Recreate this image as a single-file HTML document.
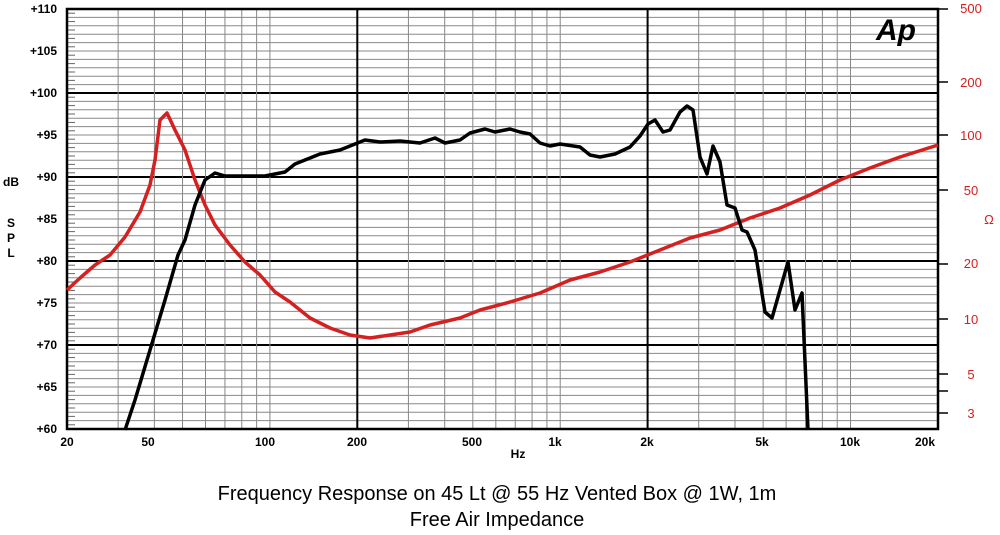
<!DOCTYPE html>
<html><head><meta charset="utf-8"><style>
body{margin:0;background:#fff;width:1000px;height:535px;overflow:hidden}
svg{display:block}
text{font-family:"Liberation Sans",Arial,sans-serif}
</style></head><body>
<svg id="s" width="1000" height="535" viewBox="0 0 1000 535" xmlns="http://www.w3.org/2000/svg">
<g id="grid"></g>
<rect x="67" y="9" width="871" height="420" fill="none" stroke="#000" stroke-width="2.5"/>
<g font-size="12" font-weight="bold" text-anchor="end" fill="#000">
<text x="57" y="13">+110</text><text x="57" y="55">+105</text><text x="57" y="97">+100</text>
<text x="57" y="139">+95</text><text x="57" y="181">+90</text><text x="57" y="223">+85</text>
<text x="57" y="265">+80</text><text x="57" y="307">+75</text><text x="57" y="349">+70</text>
<text x="57" y="391">+65</text><text x="57" y="433">+60</text>
</g>
<g font-size="12" font-weight="bold" text-anchor="middle">
<text x="11" y="186">dB</text><text x="11" y="227">S</text><text x="11" y="242">P</text><text x="11" y="257">L</text>
<text x="67" y="446">20</text><text x="148" y="446">50</text><text x="265" y="446">100</text><text x="357" y="446">200</text>
<text x="472" y="446">500</text><text x="555" y="446">1k</text><text x="647" y="446">2k</text><text x="762" y="446">5k</text>
<text x="850" y="446">10k</text><text x="925" y="446">20k</text><text x="518" y="458">Hz</text>
</g>
<g font-size="13" fill="#d42020" text-anchor="middle">
<text x="971" y="13">500</text><text x="971" y="87">200</text><text x="971" y="140">100</text>
<text x="971" y="195">50</text><text x="989" y="224">Ω</text><text x="971" y="268">20</text>
<text x="971" y="324">10</text><text x="971" y="379">5</text><text x="971" y="418">3</text>
</g>
<g stroke="#000" stroke-width="1.5">
<line x1="938" y1="9" x2="948" y2="9"/><line x1="938" y1="82" x2="948" y2="82"/><line x1="938" y1="135" x2="948" y2="135"/>
<line x1="938" y1="190" x2="948" y2="190"/><line x1="938" y1="264" x2="948" y2="264"/><line x1="938" y1="319" x2="948" y2="319"/>
<line x1="938" y1="374" x2="948" y2="374"/><line x1="938" y1="391" x2="948" y2="391"/><line x1="938" y1="413" x2="948" y2="413"/>
</g>
<text x="876" y="40" font-size="30" font-weight="bold" font-style="italic" fill="#000">Ap</text>
<polyline fill="none" stroke="#d42020" stroke-width="3.5" stroke-linejoin="round" points="67,290 80,278 95,265 110,255 125,237 140,212 150,185 155,160 160,120 167,113 175,130 185,150 195,180 205,205 215,225 230,245 245,262 260,275 275,292 290,302 310,318 330,328 350,335 370,338 390,335 410,332 430,325 460,318 480,310 510,302 540,293 570,280 600,272 630,262 660,250 690,238 720,230 750,218 780,208 810,195 840,180 870,168 900,157 938,145"/>
<polyline fill="none" stroke="#000" stroke-width="3.5" stroke-linejoin="round" points="125,430 135,400 150,350 165,300 178,255 185,240 195,205 205,180 215,173 225,176 265,176 285,172 295,164 310,158 320,154 340,150 355,144 365,140 380,142 400,141 420,143 435,138 445,143 460,140 470,133 485,129 495,132 505,130 510,129 520,132 530,134 540,143 550,146 560,144 580,147 590,155 600,157 615,154 630,147 640,136 648,124 655,120 663,132 670,130 680,112 687,106 693,110 700,157 707,174 713,146 720,162 727,205 735,208 742,230 747,232 755,250 765,312 772,318 780,290 788,262 795,310 802,293 808,430"/>
<g font-size="20" text-anchor="middle" fill="#000">
<text x="497" y="500">Frequency Response on 45 Lt @ 55 Hz Vented Box @ 1W, 1m</text>
<text x="497" y="526">Free Air Impedance</text>
</g>
</svg>
<script>
var g=document.getElementById('grid'),ns='http://www.w3.org/2000/svg';
function L(x1,y1,x2,y2,c,w){var l=document.createElementNS(ns,'line');l.setAttribute('x1',x1);l.setAttribute('y1',y1);l.setAttribute('x2',x2);l.setAttribute('y2',y2);l.setAttribute('stroke',c);l.setAttribute('stroke-width',w);g.appendChild(l);}
for(var d=60;d<=110;d++){var y=429-(d-60)*8.4;var heavy=(d%10==0);L(67,y,938,y,heavy?'#000':'#888',heavy?2:1);if(d<110)L(67,y-4.2,75,y-4.2,'#666',1);}
for(var dec=10;dec<=10000;dec*=10){for(var m=1;m<=9;m++){var f=dec*m;if(f<20||f>20000)continue;var x=67+290.3*Math.log10(f/20);var heavy=(f==200||f==2000);L(x,9,x,429,heavy?'#000':'#888',heavy?2:1);}}
</script>
</body></html>
